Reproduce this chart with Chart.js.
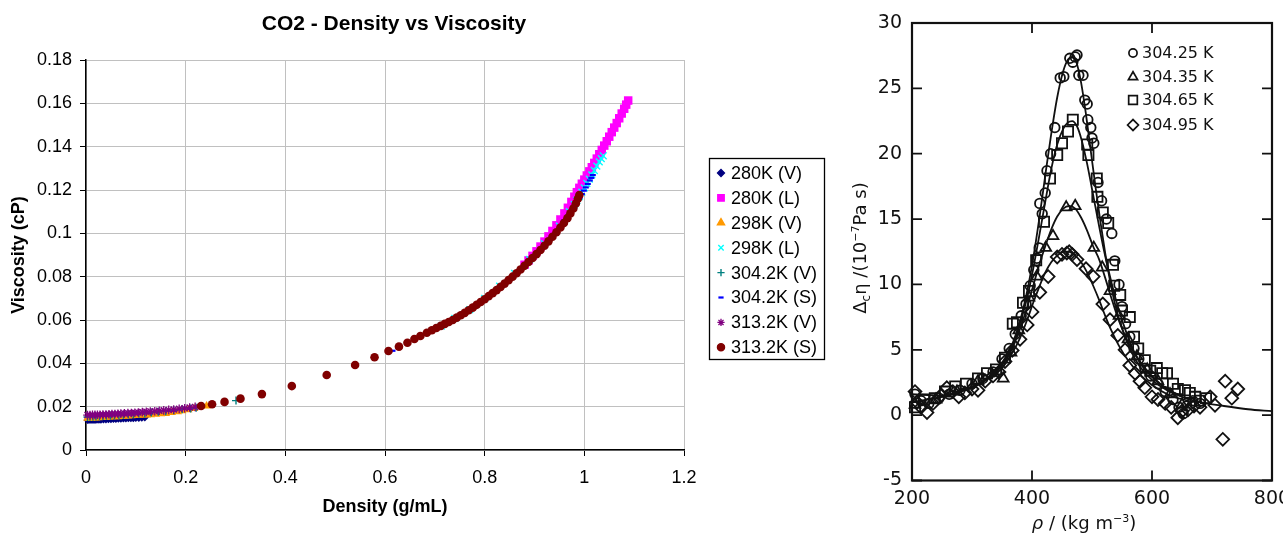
<!DOCTYPE html>
<html>
<head>
<meta charset="utf-8">
<title>CO2 - Density vs Viscosity</title>
<script src="https://cdn.jsdelivr.net/npm/chart.js@4.4.0/dist/chart.umd.min.js"></script>
<style>
html, body { margin: 0; padding: 0; background: #fff; overflow: hidden; }
#viscChart { position: absolute; left: 0; top: 0; }
#anomalyChart { position: absolute; left: 840px; top: 0; }
</style>
</head>
<body>
<canvas id="viscChart" width="840" height="534"></canvas>
<canvas id="anomalyChart" width="460" height="534"></canvas>
<script>
// ---- left chart: density (g/mL) vs viscosity (cP)
var chartTitle = "CO2 - Density vs Viscosity";
var seriesNames = ["280K (V)", "280K (L)", "298K (V)", "298K (L)", "304.2K (V)", "304.2K (S)", "313.2K (V)", "313.2K (S)"];
var densityTicks = [0, 0.2, 0.4, 0.6, 0.8, 1, 1.2];
var viscTicks = [0, 0.02, 0.04, 0.06, 0.08, 0.1, 0.12, 0.14, 0.16, 0.18];

var v280 = [[0.003,0.0138],[0.006,0.0138],[0.010,0.0139],[0.014,0.0139],[0.018,0.0139],[0.022,0.0140],[0.026,0.0140],[0.030,0.0140],[0.035,0.0141],[0.040,0.0141],[0.045,0.0142],[0.050,0.0142],[0.055,0.0143],[0.060,0.0143],[0.065,0.0144],[0.070,0.0144],[0.075,0.0145],[0.080,0.0145],[0.085,0.0146],[0.090,0.0146],[0.095,0.0147],[0.100,0.0148],[0.106,0.0148],[0.112,0.0149],[0.118,0.0150]];
var l280 = [[0.880,0.0855],[0.888,0.0875],[0.896,0.0896],[0.904,0.0917],[0.912,0.0939],[0.920,0.0962],[0.928,0.0986],[0.936,0.1011],[0.944,0.1037],[0.952,0.1064],[0.960,0.1092],[0.967,0.1118],[0.974,0.1145],[0.980,0.1169],[0.985,0.1190],[0.990,0.1210],[0.995,0.1229],[1.000,0.1248],[1.005,0.1267],[1.010,0.1286],[1.015,0.1305],[1.020,0.1325],[1.025,0.1345],[1.030,0.1365],[1.035,0.1385],[1.040,0.1405],[1.045,0.1425],[1.050,0.1446],[1.055,0.1467],[1.060,0.1488],[1.065,0.1509],[1.070,0.1531],[1.075,0.1553],[1.080,0.1575],[1.084,0.1594],[1.088,0.1613]];
var v298 = [[0.003,0.0146],[0.007,0.0147],[0.011,0.0147],[0.015,0.0148],[0.020,0.0148],[0.025,0.0149],[0.030,0.0150],[0.035,0.0150],[0.040,0.0151],[0.046,0.0152],[0.052,0.0153],[0.058,0.0153],[0.064,0.0154],[0.070,0.0155],[0.077,0.0156],[0.084,0.0157],[0.091,0.0158],[0.098,0.0159],[0.106,0.0160],[0.114,0.0161],[0.122,0.0162],[0.130,0.0163],[0.140,0.0165],[0.150,0.0167],[0.160,0.0169],[0.172,0.0173],[0.184,0.0177],[0.193,0.0181],[0.205,0.0186],[0.217,0.0192],[0.242,0.0203]];
var l298 = [[0.713,0.0572],[0.740,0.0607],[0.770,0.0648],[0.800,0.0700],[0.830,0.0756],[0.860,0.0815],[0.890,0.0880],[0.920,0.0952],[0.950,0.1033],[0.970,0.1100],[0.980,0.1133],[0.985,0.1152],[0.990,0.1170],[0.995,0.1190],[1.000,0.1210],[1.005,0.1230],[1.010,0.1250],[1.015,0.1270],[1.020,0.1290],[1.025,0.1310],[1.030,0.1330],[1.034,0.1345],[1.038,0.1358]];
var v304 = [[0.003,0.0152],[0.008,0.0153],[0.014,0.0154],[0.020,0.0155],[0.027,0.0156],[0.034,0.0157],[0.041,0.0158],[0.049,0.0159],[0.057,0.0160],[0.066,0.0162],[0.075,0.0163],[0.085,0.0165],[0.095,0.0166],[0.106,0.0168],[0.118,0.0170],[0.131,0.0173],[0.145,0.0176],[0.160,0.0179],[0.176,0.0183],[0.193,0.0188],[0.210,0.0192],[0.221,0.0195],[0.301,0.0228]];
var s304 = [[0.615,0.0458],[0.700,0.0562],[0.760,0.0636],[0.820,0.0735],[0.880,0.0853],[0.930,0.0970],[0.960,0.1060],[0.975,0.1108],[0.982,0.1132],[0.987,0.1150],[0.991,0.1165],[0.995,0.1181],[0.999,0.1197],[1.003,0.1212],[1.007,0.1228],[1.011,0.1244],[1.014,0.1256],[1.017,0.1269]];
var v313 = [[0.003,0.0161],[0.008,0.0161],[0.013,0.0162],[0.018,0.0162],[0.023,0.0163],[0.028,0.0163],[0.034,0.0164],[0.040,0.0164],[0.046,0.0165],[0.052,0.0166],[0.058,0.0166],[0.064,0.0167],[0.070,0.0168],[0.077,0.0169],[0.084,0.0170],[0.091,0.0171],[0.098,0.0172],[0.105,0.0173],[0.113,0.0175],[0.121,0.0176],[0.129,0.0178],[0.138,0.0179],[0.147,0.0181],[0.156,0.0183],[0.166,0.0185],[0.176,0.0187],[0.187,0.0190],[0.198,0.0193],[0.208,0.0196],[0.219,0.0199]];
var s313 = [[0.231,0.0203],[0.253,0.0211],[0.278,0.0222],[0.310,0.0237],[0.353,0.0258],[0.413,0.0295],[0.483,0.0346],[0.540,0.0392],[0.579,0.0428],[0.607,0.0457],[0.628,0.0477],[0.645,0.0495],[0.659,0.0512],[0.671,0.0526],[0.684,0.0541],[0.694,0.0553],[0.703,0.0563],[0.712,0.0573],[0.720,0.0582],[0.728,0.0591],[0.736,0.0600],[0.744,0.0611],[0.752,0.0622],[0.760,0.0633],[0.768,0.0645],[0.776,0.0657],[0.784,0.0670],[0.792,0.0683],[0.800,0.0696],[0.808,0.0710],[0.816,0.0724],[0.824,0.0738],[0.832,0.0753],[0.840,0.0768],[0.848,0.0784],[0.856,0.0800],[0.864,0.0816],[0.872,0.0833],[0.880,0.0850],[0.888,0.0868],[0.896,0.0886],[0.904,0.0904],[0.912,0.0923],[0.920,0.0943],[0.928,0.0963],[0.936,0.0984],[0.944,0.1005],[0.952,0.1027],[0.959,0.1048],[0.966,0.1070],[0.972,0.1092],[0.978,0.1115],[0.983,0.1138],[0.987,0.1160],[0.990,0.1177]];
var seriesData = [v280, l280, v298, l298, v304, s304, v313, s313];

// marker look per series (Excel defaults)
var markerColors = ["#000080", "#ff00ff", "#ff9900", "#00ffff", "#008080", "#0000ff", "#800080", "#800000"];
var markerStyles = ["rectRot", "rect", "triangle", "crossRot", "cross", "line", "star", "circle"];
var markerSizes = [4, 6, 5, 4.8, 4, 3, 4.3, 4.3];
var markerStroke = [0, 0, 0, 1.4, 1.4, 2.2, 1.3, 0];
var legendSizes = [3.5, 4.6, 4.2, 3.8, 3.6, 2.6, 3.6, 3.6];

// ---- right chart: critical enhancement of viscosity
var rhoTicks = [200, 400, 600, 800];
var enhTicks = [-5, 0, 5, 10, 15, 20, 25, 30];
var isoNames = ["304.25 K", "304.35 K", "304.65 K", "304.95 K"];

var c30425 = [[205,1.6],[215,1.1],[228,0.9],[245,1.3],[262,1.6],[280,1.9],[300,2.4],[318,2.8],[335,3.3],[350,4.3],[362,5.1],[372,6.2],[382,7.6],[390,8.5],[397,9.9],[403,11.1],[408,12.0],[412,12.8],[413,16.2],[417,15.4],[422,17.0],[425,18.7],[431,20.0],[438,22.0],[447,25.8],[453,25.9],[463,27.3],[468,27.0],[472,27.4],[475,27.55],[478,26.0],[485,26.0],[488,24.1],[492,23.8],[493,22.6],[498,22.0],[500,21.2],[503,20.8],[510,17.8],[516,16.4],[524,15.0],[533,13.9],[538,11.8],[545,10.0],[550,8.3],[556,7.0],[563,6.0],[570,5.1],[578,4.3],[588,3.6],[598,3.0],[610,2.4],[622,1.8],[635,1.2],[645,0.6],[652,0.1],[658,0.7],[668,1.1],[680,0.9]];
var t30435 = [[205,0.8],[240,1.2],[275,1.8],[310,2.6],[352,2.8],[365,4.8],[378,6.5],[395,9.0],[408,10.6],[423,12.8],[435,13.7],[457,15.9],[472,16.0],[503,12.8],[517,11.3],[530,9.5],[545,7.6],[560,5.8],[575,4.5],[592,3.5],[610,2.6],[630,1.6],[650,0.8]];
var s30465 = [[205,0.6],[220,1.2],[238,1.3],[255,1.8],[272,2.2],[290,2.4],[310,2.8],[325,3.2],[340,3.5],[355,4.4],[368,7.0],[375,7.1],[385,8.6],[395,9.5],[407,11.85],[420,14.8],[430,18.1],[442,19.9],[450,20.8],[460,21.7],[468,22.6],[492,20.7],[494,19.9],[508,18.1],[509,16.7],[518,15.5],[527,14.7],[535,11.5],[537,9.9],[547,9.2],[550,8.0],[563,7.5],[570,6.0],[577,5.1],[588,4.2],[597,3.4],[608,3.6],[617,3.2],[625,3.2],[635,2.4],[643,2.0],[655,1.9],[663,1.7],[672,1.4],[680,1.1],[690,1.3]];
var d30495 = [[205,1.8],[208,1.0],[215,0.6],[225,0.2],[235,0.9],[248,1.5],[258,2.1],[268,1.8],[278,1.4],[288,1.7],[300,2.0],[310,1.9],[322,2.6],[335,3.0],[345,3.3],[355,4.1],[367,4.95],[380,5.8],[392,6.9],[400,7.9],[413,9.4],[427,10.6],[442,12.1],[450,12.3],[458,12.4],[462,12.5],[467,12.3],[475,11.9],[490,11.2],[502,10.6],[518,8.5],[530,7.3],[543,6.1],[555,5.0],[563,3.8],[572,3.2],[580,2.6],[588,2.1],[600,1.4],[610,1.2],[622,0.9],[632,0.6],[643,-0.2],[650,0.3],[660,0.4],[670,0.7],[680,0.6],[697,1.4],[705,0.75],[718,-1.85],[722,2.6],[733,1.3],[743,2.0]];

// fitted curves
var f30425 = [[200,1.6],[250,1.5],[300,2.2],[330,3.0],[350,4.0],[365,5.2],[380,7.2],[392,9.5],[402,12.0],[412,15.0],[422,18.3],[432,21.5],[442,24.3],[452,26.3],[460,27.2],[467,27.4],[474,27.0],[482,25.4],[490,23.0],[498,20.2],[506,17.4],[514,14.8],[522,12.4],[530,10.3],[540,8.2],[552,6.4],[565,4.9],[580,3.7],[600,2.7],[625,1.9],[650,1.4],[680,1.0],[720,0.7],[760,0.45],[800,0.3]];
var f30435 = [[330,2.8],[350,3.8],[365,4.9],[380,6.6],[392,8.3],[402,9.9],[412,11.5],[422,12.9],[432,14.2],[442,15.2],[452,15.8],[462,16.0],[472,15.8],[482,15.1],[492,14.1],[502,12.9],[512,11.9],[522,10.5],[532,9.0],[545,7.2],[560,5.6],[580,4.1],[600,3.0],[625,2.0],[650,1.45]];
var f30465 = [[200,1.0],[250,1.4],[300,2.1],[330,2.9],[350,3.9],[365,5.0],[380,7.0],[392,9.0],[402,11.2],[412,13.7],[422,16.3],[432,18.8],[442,20.7],[452,21.9],[460,22.4],[467,22.5],[475,22.1],[483,21.0],[492,19.2],[500,17.3],[510,14.9],[520,12.6],[530,10.6],[540,8.8],[552,7.0],[565,5.4],[580,4.0],[600,2.9],[625,2.0],[650,1.45]];
var f30495 = [[330,2.8],[350,3.6],[365,4.6],[380,5.9],[392,7.3],[402,8.6],[412,9.8],[422,10.9],[432,11.7],[442,12.2],[452,12.5],[462,12.5],[472,12.2],[482,11.7],[492,10.9],[502,9.9],[512,8.8],[522,7.6],[532,6.5],[545,5.3],[560,4.2],[580,3.1],[600,2.3],[630,1.5],[660,1.1]];

var isoData = [c30425, t30435, s30465, d30495];
var isoFits = [f30425, f30435, f30465, f30495];
var isoStyles = ["circle", "triangle", "rect", "rectRot"];
var isoSizes = [4.8, 6.2, 7.2, 6.4];

var SANS = '"Liberation Sans", Arial, sans-serif';
var SCAN = '"DejaVu Sans", sans-serif';
var INK = "#111";

function toPoints(list) {
	return list.map(function(p) { return {x: p[0], y: p[1]}; });
}
function fixedTicks(values) {
	return function(scale) {
		scale.ticks = values.map(function(v) { return {value: v}; });
	};
}
function marker(ctx, style, radius, x, y) {
	Chart.helpers.drawPoint(ctx, {pointStyle: style, radius: radius, rotation: 0, borderWidth: ctx.lineWidth}, x, y);
}

// ---------- left chart
var viscSets = [];
for (var i = 0; i < seriesNames.length; i++) {
	viscSets.push({
		label: seriesNames[i],
		data: toPoints(seriesData[i]),
		pointStyle: markerStyles[i],
		pointRadius: markerSizes[i],
		pointBorderWidth: markerStroke[i],
		backgroundColor: markerColors[i],
		borderColor: markerColors[i],
		clip: false,
		order: seriesNames.length - i
	});
}

var viscDecor = {
	id: "viscDecor",
	afterDraw: function(chart) {
		var ctx = chart.ctx;
		ctx.save();
		ctx.fillStyle = "#000";
		ctx.font = "bold 21px " + SANS;
		ctx.textAlign = "center";
		ctx.textBaseline = "middle";
		ctx.fillText(chartTitle, 394, 24);

		// legend box
		ctx.fillStyle = "#fff";
		ctx.fillRect(709.5, 158.5, 115, 201);
		ctx.strokeStyle = "#000";
		ctx.lineWidth = 1.3;
		ctx.strokeRect(709.5, 158.5, 115, 201);
		ctx.font = "18px " + SANS;
		ctx.textAlign = "left";
		for (var i = 0; i < seriesNames.length; i++) {
			var y = 173 + i * 24.9;
			ctx.fillStyle = markerColors[i];
			ctx.strokeStyle = markerColors[i];
			ctx.lineWidth = markerStroke[i];
			marker(ctx, markerStyles[i], legendSizes[i], 721, y);
			ctx.fillStyle = "#000";
			ctx.fillText(seriesNames[i], 731, y + 1);
		}
		ctx.restore();
	}
};

new Chart(document.getElementById("viscChart"), {
	type: "scatter",
	data: {datasets: viscSets},
	options: {
		responsive: false,
		animation: false,
		devicePixelRatio: 1,
		events: [],
		layout: {padding: {left: 0, right: 156, top: 60, bottom: 0}},
		plugins: {legend: {display: false}, title: {display: false}, tooltip: {enabled: false}},
		scales: {
			x: {
				type: "linear", min: 0, max: 1.2,
				afterBuildTicks: fixedTicks(densityTicks),
				afterFit: function(scale) { scale.height = 84; },
				grid: {color: "#c0c0c0", tickColor: "#000", tickLength: 6},
				border: {color: "#000", width: 1.5},
				ticks: {color: "#000", padding: 11, maxRotation: 0, font: {family: SANS, size: 18},
					callback: function(v) { return String(v); }},
				title: {display: true, text: "Density (g/mL)", color: "#000",
					font: {family: SANS, size: 18, weight: "bold"}, padding: {top: 0, bottom: 16}}
			},
			y: {
				type: "linear", min: 0, max: 0.18,
				afterBuildTicks: fixedTicks(viscTicks),
				afterFit: function(scale) { scale.width = 86; },
				grid: {color: "#c0c0c0", tickColor: "#000", tickLength: 6},
				border: {color: "#000", width: 1.5},
				ticks: {color: "#000", padding: 8, font: {family: SANS, size: 18},
					callback: function(v) { return String(v); }},
				title: {display: true, text: "Viscosity (cP)", color: "#000",
					font: {family: SANS, size: 18, weight: "bold"}, padding: {top: 8, bottom: 0}}
			}
		}
	},
	plugins: [viscDecor]
});

// ---------- right chart
var anomalySets = [];
for (var j = 0; j < isoNames.length; j++) {
	anomalySets.push({
		label: isoNames[j],
		data: toPoints(isoData[j]),
		pointStyle: isoStyles[j],
		pointRadius: isoSizes[j],
		pointBorderWidth: 1.8,
		backgroundColor: "rgba(0,0,0,0)",
		borderColor: INK,
		clip: false
	});
	anomalySets.push({
		label: isoNames[j] + " fit",
		data: toPoints(isoFits[j]),
		showLine: true,
		pointRadius: 0,
		borderColor: INK,
		borderWidth: 1.8,
		cubicInterpolationMode: "monotone"
	});
}

function drawPieces(ctx, pieces, cx, cy) {
	var total = 0;
	pieces.forEach(function(p) { ctx.font = p.font; total += ctx.measureText(p.text).width; });
	var x = cx - total / 2;
	pieces.forEach(function(p) {
		ctx.font = p.font;
		ctx.fillText(p.text, x, cy + p.dy);
		x += ctx.measureText(p.text).width;
	});
}

var anomalyDecor = {
	id: "anomalyDecor",
	afterDraw: function(chart) {
		var ctx = chart.ctx, a = chart.chartArea;
		var xs = chart.scales.x, ys = chart.scales.y;
		ctx.save();
		ctx.strokeStyle = INK;
		ctx.lineWidth = 2.2;
		ctx.strokeRect(a.left, a.top, a.right - a.left, a.bottom - a.top);
		ctx.lineWidth = 1.8;
		ctx.beginPath();
		enhTicks.forEach(function(v) {
			var y = ys.getPixelForValue(v);
			ctx.moveTo(a.left, y); ctx.lineTo(a.left + 10, y);
			ctx.moveTo(a.right, y); ctx.lineTo(a.right - 10, y);
		});
		rhoTicks.forEach(function(v) {
			var x = xs.getPixelForValue(v);
			ctx.moveTo(x, a.top); ctx.lineTo(x, a.top + 10);
			ctx.moveTo(x, a.bottom); ctx.lineTo(x, a.bottom - 10);
		});
		ctx.stroke();

		// legend
		ctx.textAlign = "left";
		ctx.textBaseline = "middle";
		var rows = [53, 77, 100, 125];
		for (var i = 0; i < isoNames.length; i++) {
			ctx.fillStyle = "rgba(0,0,0,0)";
			ctx.lineWidth = 1.7;
			marker(ctx, isoStyles[i], isoSizes[i] * 0.85, 293, rows[i]);
			ctx.fillStyle = INK;
			ctx.font = "16px " + SCAN;
			ctx.fillText(isoNames[i], 302, rows[i] + 1);
		}

		// axis titles
		ctx.fillStyle = INK;
		ctx.textBaseline = "alphabetic";
		drawPieces(ctx, [
			{text: "\u03c1", font: "italic 18px " + SCAN, dy: 0},
			{text: " / (kg m", font: "18px " + SCAN, dy: 0},
			{text: "\u22123", font: "11px " + SCAN, dy: -7},
			{text: ")", font: "18px " + SCAN, dy: 0}
		], 244, 529);
		ctx.translate(26, 248);
		ctx.rotate(-Math.PI / 2);
		drawPieces(ctx, [
			{text: "\u0394", font: "18px " + SCAN, dy: 0},
			{text: "c", font: "12px " + SCAN, dy: 4},
			{text: "\u03b7 /(10", font: "18px " + SCAN, dy: 0},
			{text: "\u22127", font: "11px " + SCAN, dy: -7},
			{text: "Pa s)", font: "18px " + SCAN, dy: 0}
		], 0, 0);
		ctx.restore();
	}
};

new Chart(document.getElementById("anomalyChart"), {
	type: "scatter",
	data: {datasets: anomalySets},
	options: {
		responsive: false,
		animation: false,
		devicePixelRatio: 1,
		events: [],
		layout: {padding: {left: 0, right: 28, top: 23, bottom: 0}},
		plugins: {legend: {display: false}, title: {display: false}, tooltip: {enabled: false}},
		scales: {
			x: {
				type: "linear", min: 200, max: 800,
				afterBuildTicks: fixedTicks(rhoTicks),
				afterFit: function(scale) { scale.height = 53.5; },
				grid: {display: false, drawTicks: false},
				border: {display: false},
				ticks: {color: INK, padding: 7, maxRotation: 0, font: {family: SCAN, size: 19}}
			},
			y: {
				type: "linear", min: -5, max: 30,
				afterBuildTicks: fixedTicks(enhTicks),
				afterFit: function(scale) { scale.width = 72; },
				grid: {display: false, drawTicks: false},
				border: {display: false},
				ticks: {color: INK, padding: 10, font: {family: SCAN, size: 19}}
			}
		}
	},
	plugins: [anomalyDecor]
});
</script>
</body>
</html>
